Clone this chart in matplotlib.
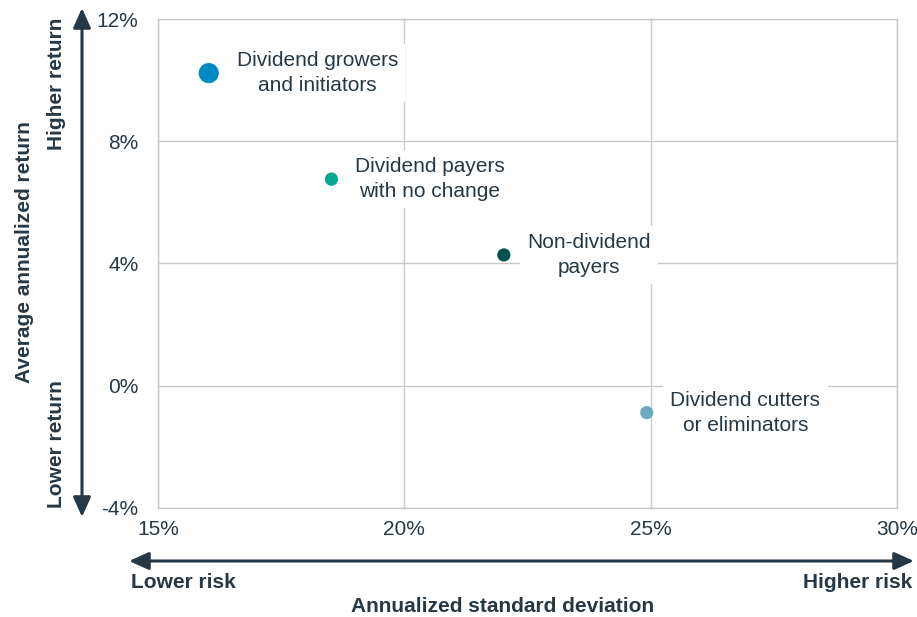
import matplotlib
matplotlib.use("Agg")
import matplotlib.pyplot as plt
from matplotlib.patches import FancyArrowPatch
from matplotlib.ticker import FuncFormatter

plt.rcParams['font.family'] = ['Liberation Sans', 'DejaVu Sans']

# Data: annualized standard deviation (%) vs. average annualized return (%)
categories = ["Dividend growers\nand initiators",
              "Dividend payers\nwith no change",
              "Non-dividend\npayers",
              "Dividend cutters\nor eliminators"]
risk = [16.03, 18.52, 22.02, 24.92]
ret = [10.23, 6.76, 4.28, -0.88]
colors = ["#0089c4", "#00a98f", "#00504f", "#6aabbd"]
sizes = [210, 90, 90, 90]
label_offsets = [20, 17, 17, 17]

x_ticks = [15, 20, 25, 30]
y_ticks = [-4, 0, 4, 8, 12]

TEXT = "#263846"
GRID = "#c9c9c9"
FS = 15

fig = plt.figure(figsize=(9.17, 6.17), dpi=100)
ax = fig.add_axes([0.1723, 0.1767, 0.8059, 0.7925])

ax.set_xlim(15, 30)
ax.set_ylim(-4, 12)
ax.set_xticks(x_ticks)
ax.set_yticks(y_ticks)
ax.xaxis.set_major_formatter(FuncFormatter(lambda v, p: f"{v:.0f}%"))
ax.yaxis.set_major_formatter(FuncFormatter(lambda v, p: f"{v:.0f}%"))
ax.tick_params(axis='both', length=0, labelsize=FS, labelcolor=TEXT)
ax.tick_params(axis='y', pad=14)
ax.tick_params(axis='x', pad=9)
ax.grid(True, color=GRID, linewidth=1.0)
ax.set_axisbelow(True)
for s in ax.spines.values():
    s.set_color(GRID)
    s.set_linewidth(1.0)

ax.scatter(risk, ret, s=sizes, c=colors, zorder=3, linewidths=0)

for x, y, lab, off in zip(risk, ret, categories, label_offsets):
    ax.annotate(lab, (x, y), xytext=(off, 0), textcoords='offset points',
                ha='left', va='center', multialignment='center',
                linespacing=1.4, fontsize=FS, color=TEXT, zorder=4,
                bbox=dict(boxstyle='square,pad=0.35', fc='white', ec='none'))

W, H = 917, 617

def fx(px):
    return px / W

def fy(py):
    return 1 - py / H

arrow_props = dict(arrowstyle='<|-|>,head_length=0.85,head_width=0.38',
                   color=TEXT, lw=2.2, shrinkA=0, shrinkB=0)

# Vertical return arrow
fig.add_artist(FancyArrowPatch(
    (fx(82), fy(517)), (fx(82), fy(8)), transform=fig.transFigure,
    mutation_scale=14, **arrow_props))
# Horizontal risk arrow
fig.add_artist(FancyArrowPatch(
    (fx(129), fy(561)), (fx(914), fy(561)), transform=fig.transFigure,
    mutation_scale=14, **arrow_props))

fig.text(fx(56), fy(18), "Higher return", rotation=90, ha='center', va='top',
         fontsize=FS, fontweight='bold', color=TEXT)
fig.text(fx(56), fy(508), "Lower return", rotation=90, ha='center', va='bottom',
         fontsize=FS, fontweight='bold', color=TEXT)
fig.text(fx(25), fy(252), "Average annualized return", rotation=90,
         ha='center', va='center', fontsize=FS, fontweight='bold', color=TEXT)

fig.text(fx(131), fy(582), "Lower risk", ha='left', va='center',
         fontsize=FS, fontweight='bold', color=TEXT)
fig.text(fx(912), fy(582), "Higher risk", ha='right', va='center',
         fontsize=FS, fontweight='bold', color=TEXT)
fig.text(fx(503), fy(606), "Annualized standard deviation", ha='center',
         va='center', fontsize=FS, fontweight='bold', color=TEXT)

fig.savefig("out.png", dpi=100)
